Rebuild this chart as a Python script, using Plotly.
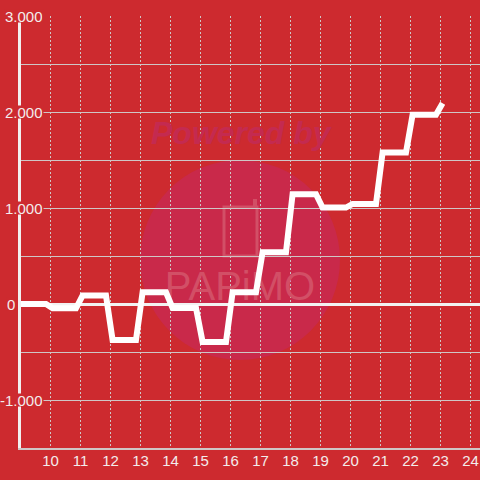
import plotly.graph_objects as go

# ---- data ----
times = [9.0, 9.85, 10.07, 10.85, 11.07, 11.85, 12.07, 12.85, 13.07, 13.85, 14.07,
         14.85, 15.07, 15.85, 16.07, 16.85, 17.07, 17.85, 18.07, 18.85, 19.07,
         19.85, 20.07, 20.85, 21.07, 21.85, 22.07, 22.85, 23.07]
profit = [0, 0, -45, -45, 88, 88, -375, -375, 122, 122, -42,
          -42, -395, -395, 122, 122, 540, 540, 1144, 1144, 1005,
          1005, 1042, 1042, 1578, 1578, 1972, 1972, 2090]

x_ticks = list(range(10, 25))
x_labels = [str(t) for t in x_ticks]
y_grid = [-1000, -500, 0, 500, 1000, 1500, 2000, 2500, 3000]
y_ticks = [-1000, 0, 1000, 2000, 3000]
y_labels = ["-1,000", "0", "1,000", "2,000", "3,000"]

# ---- styling ----
W, H = 480, 480
ML, MR, MT, MB = 21, 0, 16, 32
XR = [9.017, 24.317]
YR = [-1500, 3000]
BG = "#CD2A2F"
CIRCLE = "#C9294A"
WM_DARK = "#C42A50"
WM_LIGHT = "#D24F66"
TXT = "#F3ECEC"
GRID = "#CFC6C6"
FONT = "Liberation Sans, Arial, sans-serif"

PW, PH = W - ML - MR, H - MT - MB


def paper(px, py):
    return (px - ML) / PW, (H - MB - py) / PH


def to_data(px, py):
    fx, fy = paper(px, py)
    return XR[0] + fx * (XR[1] - XR[0]), YR[0] + fy * (YR[1] - YR[0])


fig = go.Figure()

# watermark text drawn as a trace before the data so the line stays on top
wx, wy = to_data(240, 290)
fig.add_trace(go.Scatter(
    x=[wx], y=[wy], mode="text", text=["PAPiMO"],
    textfont=dict(family="Liberation Sans Narrow, Arial Narrow, sans-serif",
                  size=40, color=WM_LIGHT),
    hoverinfo="skip", showlegend=False))

fig.add_trace(go.Scatter(
    x=times, y=profit, mode="lines",
    line=dict(color="#FFFFFF", width=6),
    hoverinfo="skip", showlegend=False))

shapes = []
cx0, cy0 = paper(140, 360)
cx1, cy1 = paper(340, 160)
shapes.append(dict(type="circle", xref="paper", yref="paper",
                   x0=cx0, y0=cy0, x1=cx1, y1=cy1,
                   fillcolor=CIRCLE, line=dict(width=0), layer="below"))
rx0, ry0 = paper(224, 256)
rx1, ry1 = paper(257, 207)
shapes.append(dict(type="rect", xref="paper", yref="paper",
                   x0=rx0, y0=ry0, x1=rx1, y1=ry1,
                   line=dict(color=WM_LIGHT, width=3), layer="below"))
ax0, ay0 = paper(255, 207)
ax1, ay1 = paper(255, 199)
shapes.append(dict(type="line", xref="paper", yref="paper",
                   x0=ax0, y0=ay0, x1=ax1, y1=ay1,
                   line=dict(color=WM_LIGHT, width=4), layer="below"))

annotations = []
px_, py_ = paper(242, 133)
annotations.append(dict(xref="paper", yref="paper", x=px_, y=py_,
                        text="Powered by", showarrow=False,
                        font=dict(family=FONT, size=32, color=WM_DARK,
                                  weight="bold", style="italic"),
                        xanchor="center", yanchor="middle"))

for val, lab in zip(y_ticks, y_labels):
    shift = -5 if lab == "0" else 23
    annotations.append(dict(xref="paper", yref="y", x=0, y=val, text=lab,
                            showarrow=False, xanchor="right", yanchor="middle",
                            xshift=shift, bgcolor=BG, borderpad=0, height=12,
                            font=dict(family=FONT, size=15, color=TXT)))

fig.update_layout(
    width=W, height=H,
    margin=dict(l=ML, r=MR, t=MT, b=MB, pad=0),
    paper_bgcolor=BG, plot_bgcolor=BG,
    showlegend=False,
    shapes=shapes, annotations=annotations,
    xaxis=dict(range=XR, tickmode="array", tickvals=x_ticks, ticktext=x_labels,
               showgrid=True, gridcolor=GRID, gridwidth=1, griddash="2px,2px",
               zeroline=False, showline=True, linecolor=GRID, linewidth=1.5,
               ticks="", ticklabelstandoff=-2,
               tickfont=dict(family=FONT, size=15, color=TXT),
               automargin=False, fixedrange=True),
    yaxis=dict(range=YR, tickmode="array", tickvals=y_grid,
               showticklabels=False, showgrid=True, gridcolor=GRID, gridwidth=1,
               zeroline=True, zerolinecolor="#F2F2F2", zerolinewidth=3,
               showline=True, linecolor="#F2F0F0", linewidth=3,
               ticks="", automargin=False, fixedrange=True),
)

fig.write_html(
    "out.html",
    config={"displayModeBar": False},
    post_script="document.body.style.margin='0';"
                "document.body.style.background='" + BG + "';",
)
